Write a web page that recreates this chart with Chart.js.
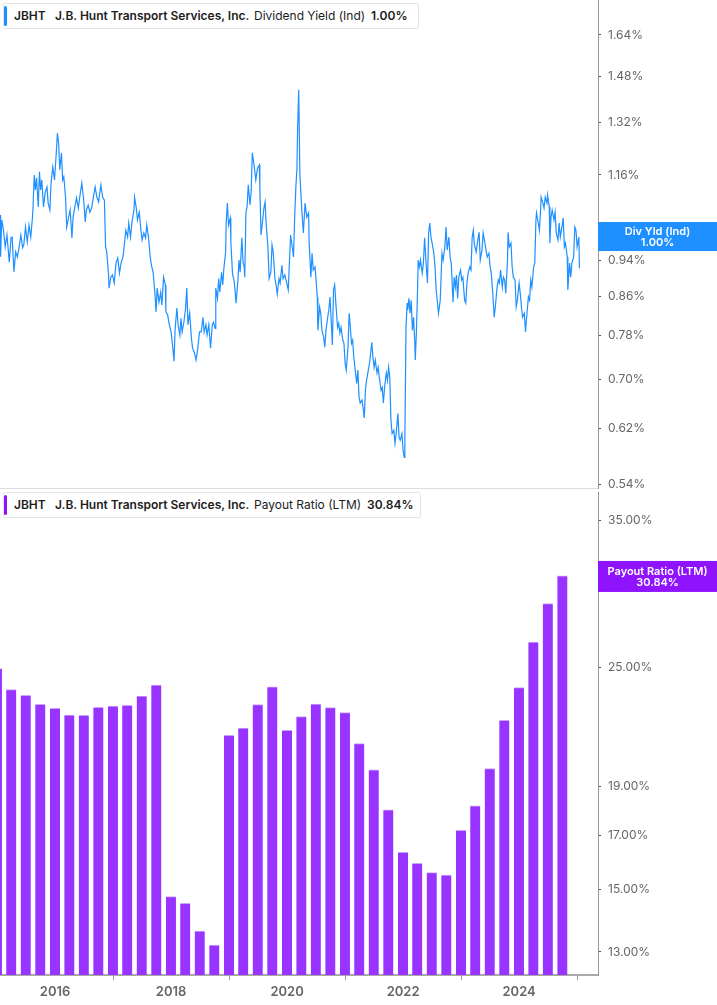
<!DOCTYPE html>
<html>
<head>
<meta charset="utf-8">
<script src="https://cdn.jsdelivr.net/npm/chart.js"></script>
<style>
  body { margin: 0; background: #fff; font-family: Inter, 'Noto Sans', sans-serif; }
  #wrap { position: relative; width: 717px; height: 1005px; overflow: hidden; }
  canvas { position: absolute; left: 0; }
  .legend {
    position: absolute; left: 3px; height: 26px;
    border: 1px solid #e4e4e4; border-radius: 2px; background: #fff;
    font-size: 12px; color: #1c1c1c; box-sizing: border-box;
  }
  .legend .bar { position: absolute; left: 0; top: 2px; bottom: 2px; width: 3px; border-radius: 2px; }
  .legend span { position: absolute; top: 0; line-height: 24px; white-space: nowrap; }
  .legend .b { font-weight: 600; }
</style>
</head>
<body>
<div id="wrap">
  <canvas id="yieldChart" width="717" height="490" style="top:0"></canvas>
  <canvas id="payoutChart" width="717" height="515" style="top:490px"></canvas>

  <div class="legend" style="top:3px; width:416px;">
    <div class="bar" style="background:#1e90ff"></div>
    <span class="b" style="left:10px">JBHT</span>
    <span class="b" style="left:51px">J.B. Hunt Transport Services, Inc.</span>
    <span style="left:250px">Dividend Yield (Ind)</span>
    <span class="b" style="left:367px">1.00%</span>
  </div>
  <div class="legend" style="top:492px; width:418px;">
    <div class="bar" style="background:#9013fe"></div>
    <span class="b" style="left:10px">JBHT</span>
    <span class="b" style="left:51px">J.B. Hunt Transport Services, Inc.</span>
    <span style="left:250px">Payout Ratio (LTM)</span>
    <span class="b" style="left:363px">30.84%</span>
  </div>
</div>

<script>
// dividend yield (Ind), % — x in decimal years
const yieldDates = [
  2015.05,2015.06,2015.08,2015.11,2015.14,2015.17,2015.21,2015.24,2015.26,2015.29,2015.32,2015.35,2015.38,2015.41,2015.44,2015.46,2015.49,2015.52,2015.55,2015.58,2015.61,2015.62,2015.64,2015.66,2015.68,2015.71,2015.73,2015.75,2015.77,2015.80,2015.83,2015.86,2015.88,2015.91,2015.93,2015.96,2015.99,
  2016.02,2016.04,2016.06,2016.08,2016.11,2016.13,2016.15,2016.18,2016.20,2016.23,2016.26,2016.29,2016.31,2016.34,2016.37,2016.40,2016.43,2016.46,2016.49,2016.52,2016.54,2016.57,2016.60,2016.63,2016.66,2016.69,2016.72,2016.75,2016.77,2016.79,2016.82,2016.85,2016.87,2016.89,2016.92,2016.93,2016.96,2016.99,
  2017.02,2017.05,2017.08,2017.11,2017.14,2017.17,2017.19,2017.22,2017.25,2017.27,2017.30,2017.33,2017.36,2017.37,2017.40,2017.42,2017.45,2017.48,2017.50,2017.53,2017.56,2017.58,2017.61,2017.64,2017.66,2017.69,2017.72,2017.74,2017.76,2017.79,2017.82,2017.84,2017.87,2017.90,2017.91,2017.94,2017.97,
  2018.00,2018.03,2018.05,2018.07,2018.10,2018.12,2018.15,2018.17,2018.19,2018.22,2018.25,2018.27,2018.29,2018.32,2018.35,2018.37,2018.40,2018.43,2018.46,2018.49,2018.52,2018.55,2018.57,2018.60,2018.62,2018.65,2018.68,2018.71,2018.73,2018.76,2018.77,2018.80,2018.82,2018.84,2018.87,2018.89,2018.91,2018.94,2018.95,2018.97,2018.99,
  2019.02,2019.03,2019.06,2019.08,2019.10,2019.12,2019.15,2019.17,2019.19,2019.22,2019.24,2019.26,2019.27,2019.29,2019.31,2019.33,2019.36,2019.38,2019.40,2019.43,2019.46,2019.49,2019.52,2019.53,2019.55,2019.57,2019.60,2019.62,2019.64,2019.67,2019.69,2019.72,2019.74,2019.76,2019.79,2019.81,2019.83,2019.86,2019.88,2019.91,2019.93,2019.96,2019.99,
  2020.02,2020.04,2020.06,2020.09,2020.11,2020.13,2020.15,2020.17,2020.18,2020.20,2020.22,2020.25,2020.28,2020.31,2020.34,2020.37,2020.38,2020.41,2020.43,2020.45,2020.48,2020.50,2020.52,2020.53,2020.56,2020.58,2020.60,2020.63,2020.65,2020.67,2020.70,2020.72,2020.74,2020.76,2020.78,2020.80,2020.82,2020.84,2020.87,2020.89,2020.91,2020.93,2020.96,2020.98,
  2021.00,2021.02,2021.05,2021.07,2021.09,2021.11,2021.13,2021.15,2021.18,2021.20,2021.22,2021.24,2021.26,2021.29,2021.31,2021.33,2021.35,2021.37,2021.40,2021.42,2021.44,2021.46,2021.48,2021.50,2021.52,2021.55,2021.57,2021.59,2021.62,2021.64,2021.66,2021.68,2021.71,2021.73,2021.75,2021.77,2021.79,2021.81,2021.84,2021.86,2021.88,2021.91,2021.93,2021.95,2021.98,
  2022.00,2022.02,2022.03,2022.05,2022.07,2022.08,2022.10,2022.12,2022.14,2022.16,2022.18,2022.20,2022.21,2022.23,2022.25,2022.26,2022.28,2022.30,2022.33,2022.35,2022.37,2022.40,2022.42,2022.44,2022.46,2022.48,2022.50,2022.53,2022.55,2022.57,2022.60,2022.61,2022.64,2022.67,2022.69,2022.72,2022.74,2022.76,2022.79,2022.81,2022.83,2022.86,2022.88,2022.90,2022.92,2022.94,2022.96,2022.99,
  2023.01,2023.03,2023.06,2023.08,2023.10,2023.12,2023.15,2023.17,2023.19,2023.21,2023.23,2023.26,2023.28,2023.31,2023.33,2023.36,2023.38,2023.41,2023.43,2023.45,2023.48,2023.50,2023.52,2023.55,2023.57,2023.59,2023.62,2023.64,2023.66,2023.68,2023.71,2023.73,2023.75,2023.77,2023.80,2023.81,2023.83,2023.86,2023.88,2023.90,2023.93,2023.95,2023.97,
  2024.00,2024.02,2024.04,2024.06,2024.09,2024.11,2024.13,2024.16,2024.18,2024.20,2024.22,2024.25,2024.27,2024.29,2024.30,2024.33,2024.35,2024.37,2024.38,2024.41,2024.43,2024.45,2024.48,2024.49,2024.52,2024.53,2024.55,2024.57,2024.60,2024.62,2024.64,2024.67,2024.69,2024.71,2024.73,2024.76,2024.78,2024.80,2024.83,2024.84,2024.87,2024.89,2024.91,2024.94,2024.96,2024.98,2025.00,2025.03,2025.04
];
const yieldValues = [
  1.051,0.948,1.038,1.012,0.971,1.000,0.935,0.993,0.995,0.913,0.959,0.947,0.971,1.000,0.969,0.976,1.020,0.983,1.025,0.995,1.045,1.072,1.160,1.118,1.152,1.072,1.169,1.118,1.146,1.072,1.112,1.126,1.082,1.064,1.137,1.183,1.146,
  1.225,1.287,1.256,1.175,1.225,1.146,1.155,1.098,1.020,1.043,1.064,0.993,1.045,1.072,1.096,1.069,1.104,1.137,1.096,1.033,1.064,1.077,1.058,1.069,1.098,1.126,1.098,1.085,1.110,1.132,1.098,1.090,0.971,0.959,0.910,0.877,0.901,0.906,
  0.888,0.933,0.945,0.910,0.935,0.947,0.971,1.012,0.995,1.030,0.995,1.038,1.064,1.098,1.069,1.038,1.058,1.012,0.988,1.005,0.993,1.025,0.995,0.947,0.928,0.912,0.868,0.827,0.877,0.847,0.868,0.841,0.901,0.884,0.827,0.821,0.801,
  0.787,0.756,0.732,0.794,0.835,0.801,0.781,0.814,0.787,0.806,0.835,0.877,0.801,0.825,0.775,0.756,0.748,0.734,0.756,0.787,0.787,0.816,0.787,0.801,0.781,0.801,0.756,0.801,0.806,0.794,0.877,0.855,0.898,0.868,0.912,0.884,0.921,0.959,1.033,1.082,1.025,
  1.043,0.983,0.906,0.898,0.877,0.845,0.890,0.940,0.912,0.993,0.935,0.924,0.901,1.058,1.072,1.132,1.077,1.112,1.225,1.189,1.146,1.180,1.189,1.123,1.000,1.025,1.069,1.085,1.025,0.969,0.898,0.912,0.976,0.959,0.898,0.884,0.864,0.898,0.888,0.928,0.898,0.906,0.890,
  0.873,0.935,1.000,0.969,0.947,1.043,1.123,1.180,1.291,1.432,1.160,1.072,1.005,1.082,1.045,1.056,0.980,0.901,0.956,0.917,0.924,0.895,0.858,0.790,0.837,0.824,0.790,0.777,0.758,0.790,0.816,0.831,0.858,0.810,0.762,0.873,0.884,0.845,0.796,0.804,0.785,0.796,0.771,0.765,
  0.728,0.716,0.758,0.824,0.796,0.765,0.771,0.739,0.711,0.693,0.716,0.670,0.660,0.665,0.653,0.636,0.681,0.698,0.716,0.728,0.746,0.767,0.739,0.721,0.734,0.711,0.721,0.703,0.681,0.686,0.660,0.686,0.711,0.698,0.721,0.703,0.633,0.612,0.617,0.597,0.612,0.643,0.606,0.602,0.612,
  0.587,0.577,0.602,0.796,0.845,0.831,0.855,0.824,0.851,0.790,0.816,0.771,0.734,0.790,0.879,0.940,0.924,0.940,0.910,0.933,0.993,0.924,0.888,1.005,1.030,0.995,0.980,0.956,0.924,0.873,0.837,0.824,0.851,0.956,0.940,0.971,1.020,0.964,0.995,0.947,0.933,0.847,0.901,0.879,0.906,0.855,0.901,0.917,
  0.895,0.901,0.851,0.845,0.888,0.910,0.924,0.917,0.993,1.012,0.976,0.959,0.980,1.007,0.940,0.964,1.005,0.980,0.964,0.947,0.956,0.924,0.910,0.858,0.816,0.837,0.879,0.895,0.888,0.917,0.879,0.901,0.895,0.866,0.940,1.007,0.971,0.980,0.924,0.901,0.895,0.837,0.851,
  0.888,0.866,0.837,0.816,0.824,0.787,0.816,0.858,0.851,0.895,0.879,0.924,0.933,1.038,1.056,1.030,1.012,1.064,1.098,1.082,1.069,1.098,1.082,1.104,1.072,0.980,1.045,1.064,1.038,1.058,1.005,0.988,1.030,0.995,1.012,1.043,0.971,0.980,0.947,0.873,0.933,0.901,0.933,0.947,1.020,1.012,0.971,0.995,0.921
];
const yieldTicks = [0.54, 0.62, 0.70, 0.78, 0.86, 0.94, 1.00, 1.16, 1.32, 1.48, 1.64];
const yieldLatest = 1.00;

// payout ratio (LTM), %, quarterly
const payoutQuarters = [
  '2014-12-31',
  '2015-03-31','2015-06-30','2015-09-30','2015-12-31',
  '2016-03-31','2016-06-30','2016-09-30','2016-12-31',
  '2017-03-31','2017-06-30','2017-09-30','2017-12-31',
  '2018-03-31','2018-06-30','2018-09-30','2018-12-31',
  '2019-03-31','2019-06-30','2019-09-30','2019-12-31',
  '2020-03-31','2020-06-30','2020-09-30','2020-12-31',
  '2021-03-31','2021-06-30','2021-09-30','2021-12-31',
  '2022-03-31','2022-06-30','2022-09-30','2022-12-31',
  '2023-03-31','2023-06-30','2023-09-30','2023-12-31',
  '2024-03-31','2024-06-30','2024-09-30'
];
const payoutValues = [
  24.93,
  23.75, 23.44, 22.96, 22.75,
  22.40, 22.39, 22.80, 22.87,
  22.91, 23.40, 24.00, 14.76,
  14.54, 13.64, 13.21, 21.39,
  21.74, 22.95, 23.91, 21.63,
  22.33, 22.98, 22.79, 22.53,
  20.98, 19.76, 18.02, 16.34,
  15.94, 15.60, 15.51, 17.19,
  18.19, 19.81, 22.13, 23.86,
  26.50, 28.94, 30.84
];
const payoutTicks = [13, 15, 17, 19, 25, 30, 35];
const payoutLatest = 30.84;

const yearTicks = [2016, 2018, 2020, 2022, 2024];
const xMin = 2015.05, xMax = 2025.36;

function toYear(s) {
  const d = new Date(s + 'T00:00:00Z');
  const y = d.getUTCFullYear();
  const a = Date.UTC(y, 0, 1), b = Date.UTC(y + 1, 0, 1);
  return y + (d - a) / (b - a);
}

const valueTag = {
  id: 'valueTag',
  afterDraw(chart, args, o) {
    const { ctx, chartArea } = chart;
    const y = chart.scales.y.getPixelForValue(o.value);
    const x0 = chartArea.right, w = chart.width - x0;
    ctx.save();
    ctx.fillStyle = o.color;
    ctx.fillRect(x0, y + o.top, w, o.height);
    ctx.fillStyle = '#fff';
    ctx.font = '600 11px Inter';
    ctx.textAlign = 'center';
    ctx.textBaseline = 'middle';
    ctx.fillText(o.title, x0 + w / 2, y + o.line1);
    ctx.fillText(o.value.toFixed(2) + '%', x0 + w / 2, y + o.line2);
    ctx.restore();
  }
};

const axisFont = { family: 'Inter', size: 12 };

function rightAxis(min, max, ticks) {
  return {
    type: 'logarithmic',
    position: 'right',
    min, max,
    afterBuildTicks: s => { s.ticks = ticks.map(v => ({ value: v })); },
    afterFit: s => { s.width = 119; s.paddingTop = 0; s.paddingBottom = 0; },
    ticks: {
      autoSkip: false,
      padding: 7,
      color: '#666',
      font: axisFont,
      callback: v => Number(v).toFixed(2) + '%'
    },
    grid: { drawOnChartArea: false, tickLength: 3, tickColor: '#555' },
    border: { color: '#999' }
  };
}

new Chart(document.getElementById('yieldChart'), {
  type: 'line',
  data: {
    datasets: [{
      data: yieldDates.map((x, i) => ({ x, y: yieldValues[i] })),
      borderColor: '#1e90ff',
      borderWidth: 1.2,
      pointRadius: 0,
      tension: 0
    }]
  },
  options: {
    responsive: false,
    animation: false,
    devicePixelRatio: 1,
    layout: { padding: 0 },
    plugins: {
      legend: { display: false },
      tooltip: { enabled: false },
      valueTag: { value: yieldLatest, title: 'Div Yld (Ind)', color: '#1e90ff', top: -13, height: 29, line1: -3.3, line2: 7.3 }
    },
    scales: {
      x: {
        type: 'linear', min: xMin, max: xMax,
        ticks: { display: false },
        grid: { display: false },
        border: { display: true, color: '#ddd' },
        afterFit: s => { s.height = 2; s.paddingLeft = 0; s.paddingRight = 0; }
      },
      y: rightAxis(0.535, 1.788, yieldTicks)
    }
  },
  plugins: [valueTag]
});

new Chart(document.getElementById('payoutChart'), {
  type: 'bar',
  data: {
    datasets: [{
      data: payoutQuarters.map((q, i) => ({ x: toYear(q), y: payoutValues[i] })),
      backgroundColor: '#9933ff',
      borderColor: '#c9a3ff',
      borderWidth: { top: 1, left: 0, right: 0, bottom: 0 },
      borderSkipped: false,
      barThickness: 10
    }]
  },
  options: {
    responsive: false,
    animation: false,
    devicePixelRatio: 1,
    layout: { padding: { top: 2 } },
    plugins: {
      legend: { display: false },
      tooltip: { enabled: false },
      valueTag: { value: payoutLatest, title: 'Payout Ratio (LTM)', color: '#9013fe', top: -15, height: 31, line1: -4.5, line2: 6.3 }
    },
    scales: {
      x: {
        type: 'linear', min: xMin, max: xMax, offset: false,
        afterBuildTicks: s => { s.ticks = yearTicks.map(v => ({ value: v })); },
        afterFit: s => { s.height = 30; s.paddingLeft = 0; s.paddingRight = 0; },
        ticks: {
          autoSkip: false, padding: 4, color: '#666',
          font: { family: 'Inter', size: 13, weight: '600' },
          callback: v => String(v)
        },
        grid: { drawOnChartArea: false, tickLength: 5, tickColor: '#999' },
        border: { color: '#aaa', width: 2 }
      },
      y: rightAxis(12.33, 37.4, payoutTicks)
    }
  },
  plugins: [valueTag]
});
</script>
</body>
</html>
